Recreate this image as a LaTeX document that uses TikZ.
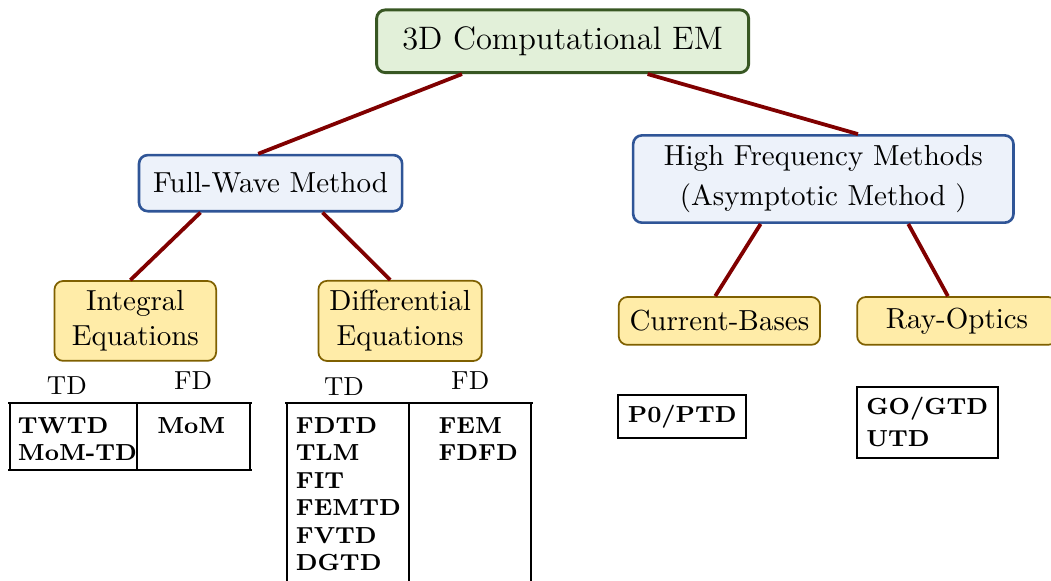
\documentclass[tikz,border=0pt]{standalone}
\usepackage{tikz}
\usetikzlibrary{positioning,calc}
\definecolor{rootfill}{RGB}{226,240,217}
\definecolor{rootdraw}{RGB}{56,87,35}
\definecolor{methodfill}{RGB}{237,242,250}
\definecolor{methoddraw}{RGB}{47,85,151}
\definecolor{classfill}{RGB}{255,236,168}
\definecolor{classdraw}{RGB}{127,96,0}
\definecolor{branch}{RGB}{128,0,0}

\begin{document}
\begin{tikzpicture}[
    rootbox/.style={rectangle, draw=rootdraw, fill=rootfill, line width=1pt,
                 minimum width=4.51cm, minimum height=0.76cm, align=center, rounded corners=3pt,
                 font=\fontsize{11.2}{13}\selectfont},
    methodbox/.style={rectangle, draw=methoddraw, fill=methodfill, line width=0.9pt,
                 align=center, rounded corners=3pt},
    classbox/.style={rectangle, draw=classdraw, fill=classfill, semithick,
                 minimum height=0.58cm, align=center, rounded corners=3pt},
    listbox/.style={rectangle, draw, line width=0.7pt, align=left, font=\footnotesize\bfseries},
    celltext/.style={anchor=north west, inner sep=0pt, align=left, font=\footnotesize\bfseries},
    domainlabel/.style={font=\small, inner sep=1pt},
    tableline/.style={line width=0.7pt},
    branchline/.style={branch, line width=1.3pt}
  ]
    \useasboundingbox (0,0) rectangle (12.74,-7.04);

    \node[rootbox] (root) at (6.82,-0.50) {3D Computational EM};
    \node[methodbox, minimum width=3.19cm, minimum height=0.68cm] (fullwave) at (3.28,-2.22) {Full-Wave Method};
    \node[methodbox, minimum width=4.61cm, minimum height=1.02cm] (highfreq) at (9.98,-2.17) {High Frequency Methods\\[2pt](Asymptotic Method )};
    \node[classbox, minimum width=1.96cm, minimum height=0.87cm] (integral) at (1.64,-3.89) {Integral\\Equations};
    \node[classbox, minimum width=1.98cm, minimum height=0.87cm] (differential) at (4.85,-3.89) {Differential\\Equations};
    \node[classbox, minimum width=2.44cm] (current) at (8.72,-3.89) {Current-Bases};
    \node[classbox, minimum width=2.42cm] (rayoptics) at (11.60,-3.89) {Ray-Optics};

    \draw[branchline] ([xshift=-1.22cm]root.south) -- ([xshift=-0.15cm]fullwave.north);
    \draw[branchline] ([xshift=1.03cm]root.south) -- ([xshift=0.42cm]highfreq.north);
    \draw[branchline] ([xshift=-0.85cm]fullwave.south) -- ([xshift=-0.06cm]integral.north);
    \draw[branchline] ([xshift=0.63cm]fullwave.south) -- ([xshift=-0.12cm]differential.north);
    \draw[branchline] ([xshift=-0.76cm]highfreq.south) -- ([xshift=-0.05cm]current.north);
    \draw[branchline] ([xshift=1.03cm]highfreq.south) -- ([xshift=-0.11cm]rayoptics.north);

    % integral equations table
    \node[domainlabel] (intTD) at (0.81,-4.67) {TD};
    \node[domainlabel] (intFD) at (2.34,-4.61) {FD};
    \draw[tableline] (0.10,-4.88) -- (3.05,-4.88) (0.10,-5.70) -- (3.05,-5.70);
    \draw[tableline] (0.12,-4.88) -- (0.12,-5.70) (1.66,-4.88) -- (1.66,-5.70) (3.03,-4.88) -- (3.03,-5.70);
    \node[celltext] (intTDlist) at (0.21,-5.05) {TWTD\\MoM-TD};
    \node[celltext] (intFDlist) at (1.90,-5.05) {MoM};

    % differential equations table
    \node[domainlabel] (diffTD) at (4.17,-4.68) {TD};
    \node[domainlabel] (diffFD) at (5.70,-4.61) {FD};
    \draw[tableline] (3.46,-4.88) -- (6.46,-4.88);
    \draw[tableline] (3.48,-4.88) -- (3.48,-7.04) (4.96,-4.88) -- (4.96,-7.04) (6.44,-4.88) -- (6.44,-7.04);
    \node[celltext] (diffTDlist) at (3.58,-5.05) {FDTD\\TLM\\FIT\\FEMTD\\FVTD\\DGTD};
    \node[celltext] (diffFDlist) at (5.31,-5.05) {FEM\\FDFD};

    % asymptotic methods
    \node[listbox, minimum width=1.53cm, minimum height=0.51cm] (currentlist) at (8.27,-5.05) {P0/PTD};
    \node[listbox, minimum width=1.71cm, minimum height=0.86cm] (raylist) at (11.24,-5.12) {GO/GTD\\[1.5pt]UTD};
  \end{tikzpicture}
\end{document}
